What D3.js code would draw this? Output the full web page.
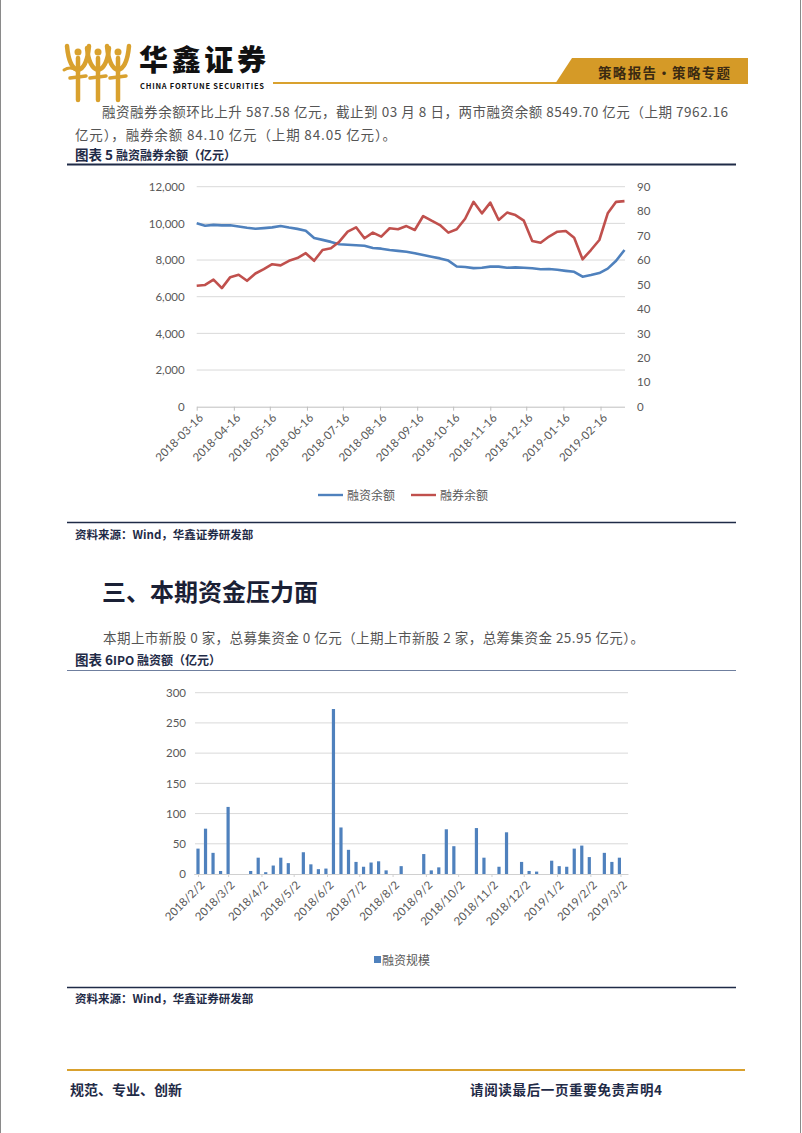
<!DOCTYPE html>
<html><head><meta charset="utf-8">
<script src="https://cdn.jsdelivr.net/npm/d3@7"></script>
<style>
html,body{margin:0;padding:0;background:#fff;}
svg{display:block;}
text{font-family:"Noto Sans CJK SC","Noto Sans",sans-serif;}
.tick text{font-family:Lato,"Open Sans",sans-serif;}
</style></head>
<body>
<svg id="page" width="802" height="1133"></svg>
<script>
// ---------- data: chart 5 (weekly) ----------
const marginDates = ["2018-03-16","2018-03-23","2018-03-30","2018-04-06","2018-04-13","2018-04-20","2018-04-27","2018-05-04","2018-05-11","2018-05-18","2018-05-25","2018-06-01","2018-06-08","2018-06-15","2018-06-22","2018-06-29","2018-07-06","2018-07-13","2018-07-20","2018-07-27","2018-08-03","2018-08-10","2018-08-17","2018-08-24","2018-08-31","2018-09-07","2018-09-14","2018-09-21","2018-09-28","2018-10-05","2018-10-12","2018-10-19","2018-10-26","2018-11-02","2018-11-09","2018-11-16","2018-11-23","2018-11-30","2018-12-07","2018-12-14","2018-12-21","2018-12-28","2019-01-04","2019-01-11","2019-01-18","2019-01-25","2019-02-01","2019-02-08","2019-02-15","2019-02-22","2019-03-01","2019-03-08"];
const financingBalance = [10000,9870,9920,9890,9900,9830,9760,9710,9740,9780,9860,9770,9700,9600,9200,9100,8990,8860,8830,8810,8780,8660,8620,8545,8500,8455,8370,8270,8180,8090,7970,7650,7620,7560,7580,7640,7640,7580,7600,7580,7550,7500,7510,7470,7410,7360,7090,7180,7290,7530,7962.16,8549.70];
const securitiesLending = [49.5,49.8,52,48.5,53,54,51.5,54.5,56.3,58.3,57.8,59.7,60.8,62.8,59.7,64.1,64.8,67.5,71.6,73.4,68.9,71.2,69.6,73,72.6,73.9,72.3,78,76.1,74.3,71.2,72.6,76.9,83.8,79.1,83.5,76.4,79.4,78.4,76.1,67.8,67.1,69.6,71.6,71.9,69.1,60.3,64.1,68.2,79.1,83.8,84.1];
const chart5LeftTicks = [0,2000,4000,6000,8000,10000,12000];
const chart5RightTicks = [0,10,20,30,40,50,60,70,80,90];
const chart5XTicks = ["2018-03-16","2018-04-16","2018-05-16","2018-06-16","2018-07-16","2018-08-16","2018-09-16","2018-10-16","2018-11-16","2018-12-16","2019-01-16","2019-02-16"];
const chart5Series = ["融资余额","融券余额"];

// ---------- data: chart 6 (weekly IPO) ----------
const ipoDates = ["2018-02-02","2018-02-09","2018-02-16","2018-02-23","2018-03-02","2018-03-09","2018-03-16","2018-03-23","2018-03-30","2018-04-06","2018-04-13","2018-04-20","2018-04-27","2018-05-04","2018-05-11","2018-05-18","2018-05-25","2018-06-01","2018-06-08","2018-06-15","2018-06-22","2018-06-29","2018-07-06","2018-07-13","2018-07-20","2018-07-27","2018-08-03","2018-08-10","2018-08-17","2018-08-24","2018-08-31","2018-09-07","2018-09-14","2018-09-21","2018-09-28","2018-10-05","2018-10-12","2018-10-19","2018-10-26","2018-11-02","2018-11-09","2018-11-16","2018-11-23","2018-11-30","2018-12-07","2018-12-14","2018-12-21","2018-12-28","2019-01-04","2019-01-11","2019-01-18","2019-01-25","2019-02-01","2019-02-08","2019-02-15","2019-02-22","2019-03-01"];
const ipoAmount = [42,75,35,5,111,0,0,5,27,3,14,27,18,0,36,16,8,9,273,77,40,20,12,19,21,6,0,13,0,0,33,6,11,74,46,0,0,76,27,0,12,69,0,20,5,4,0,22,13,12,42,47,28,0,35,20,27];
const chart6YTicks = [0,50,100,150,200,250,300];
const chart6XTicks = ["2018-02-02","2018-03-02","2018-04-02","2018-05-02","2018-06-02","2018-07-02","2018-08-02","2018-09-02","2018-10-02","2018-11-02","2018-12-02","2019-01-02","2019-02-02","2019-03-02"];
const chart6Series = ["融资规模"];

const parse = d3.timeParse("%Y-%m-%d");
const svg = d3.select("#page");
const GOLD = "#D9A12E", NAVY = "#1F2B47", BLUE = "#4F81BD", RED = "#C0504D", GRID = "#D9D9D9", AXTXT = "#595959";

// page frame
svg.append("line").attr("x1",0.5).attr("x2",0.5).attr("y1",0).attr("y2",1133).attr("stroke","#8a8a8a");
svg.append("line").attr("x1",800.5).attr("x2",800.5).attr("y1",0).attr("y2",1133).attr("stroke","#8a8a8a");

// ---------- header ----------
const logo = svg.append("g").attr("fill","none").attr("stroke",GOLD).attr("stroke-linecap","round");
[78,98,118].forEach((cx,i)=>{
  logo.append("path").attr("d",`M${cx-11},${46+i%2*2} Q${cx-9},${68} ${cx},${70} Q${cx+9},${68} ${cx+11},${46+i%2*2}`).attr("stroke-width",4.5);
  logo.append("path").attr("d",`M${cx},${58} L${cx},${100}`).attr("stroke-width",4.5);
  logo.append("path").attr("d",`M${cx-8},${78} L${cx+8},${76}`).attr("stroke-width",3.5);
  logo.append("circle").attr("cx",cx).attr("cy",52).attr("r",3.5).attr("fill",GOLD).attr("stroke","none");
});
logo.append("path").attr("d","M64,70 Q70,66 76,70").attr("stroke-width",3);
svg.append("text").attr("x",139).attr("y",71).attr("font-size",29).attr("font-weight",900).attr("fill","#111").attr("textLength",127).text("华鑫证券");
svg.append("text").attr("x",140).attr("y",89).attr("font-size",7.5).attr("font-weight",700).attr("fill","#111")
  .attr("font-family","'Liberation Sans',Arial,sans-serif").attr("textLength",124).text("CHINA FORTUNE SECURITIES");
svg.append("line").attr("x1",273).attr("x2",562).attr("y1",83).attr("y2",83).attr("stroke",GOLD).attr("stroke-width",2);
svg.append("path").attr("d","M555,84 L572,58 L748,58 L748,84 Z").attr("fill","#D59A27");
svg.append("text").attr("x",598).attr("y",78).attr("font-size",13.5).attr("font-weight",700).attr("fill","#3B2A12").attr("textLength",132).text("策略报告·策略专题");

// body text
const body = (x,y,t,len)=>{const e=svg.append("text").attr("x",x).attr("y",y).attr("font-size",13.5).attr("fill","#555").text(t); if(len) e.attr("textLength",len).attr("lengthAdjust","spacing"); return e;};
body(102,117,"融资融券余额环比上升 587.58 亿元，截止到 03 月 8 日，两市融资余额 8549.70 亿元（上期 7962.16",626);
body(75,140,"亿元），融券余额 84.10 亿元（上期 84.05 亿元）。",321);

const caption = (y,a,b)=>{
  const t = svg.append("text").attr("x",75).attr("y",y).attr("fill",NAVY).attr("font-weight",700);
  t.append("tspan").attr("font-size",13.5).text(a);
  t.append("tspan").attr("font-size",12).text(b);
};
caption(160,"图表 5 ","融资融券余额（亿元）");
svg.append("line").attr("x1",67).attr("x2",736).attr("y1",164.5).attr("y2",164.5).attr("stroke",NAVY).attr("stroke-width",2);

// ---------- chart 5 ----------
const x1 = d3.scaleTime().domain([parse("2018-03-16"),parse("2019-03-08")]).range([196.7,624.5]);
const yL = d3.scaleLinear().domain([0,12000]).range([406.7,186.7]);
const yR = d3.scaleLinear().domain([0,90]).range([406.7,186.7]);
const c5 = svg.append("g");
c5.append("g").selectAll("line").data(chart5LeftTicks.filter(d=>d>0)).join("line")
  .attr("x1",196.7).attr("x2",625).attr("y1",d=>yL(d)).attr("y2",d=>yL(d)).attr("stroke",GRID).attr("stroke-width",1);
const axL = c5.append("g").attr("transform","translate(196.7,0)")
  .call(d3.axisLeft(yL).tickValues(chart5LeftTicks).tickFormat(d3.format(",")).tickSize(0).tickPadding(12));
const axR = c5.append("g").attr("transform","translate(625,0)")
  .call(d3.axisRight(yR).tickValues(chart5RightTicks).tickSize(0).tickPadding(12));
const axB = c5.append("g").attr("transform","translate(0,406.7)")
  .call(d3.axisBottom(x1).tickValues(chart5XTicks.map(parse)).tickFormat(d3.timeFormat("%Y-%m-%d")).tickSize(4).tickSizeOuter(0));
[axL,axR].forEach(a=>a.select(".domain").remove());
axB.select(".domain").attr("stroke","#BFBFBF");
axB.selectAll(".tick line").attr("stroke","#BFBFBF");
axB.selectAll(".tick text").attr("text-anchor","end").attr("transform","translate(4,9) rotate(-45)").attr("dy","0.35em").attr("y",0).attr("x",0);
c5.selectAll(".tick text").attr("fill",AXTXT).attr("font-size",11.5);
const pts = marginDates.map(parse);
c5.append("path").datum(financingBalance).attr("fill","none").attr("stroke",BLUE).attr("stroke-width",2.6).attr("stroke-linejoin","round")
  .attr("d",d3.line().x((d,i)=>x1(pts[i])).y(d=>yL(d)));
c5.append("path").datum(securitiesLending).attr("fill","none").attr("stroke",RED).attr("stroke-width",2.6).attr("stroke-linejoin","round")
  .attr("d",d3.line().x((d,i)=>x1(pts[i])).y(d=>yR(d)));
// legend
const lg5 = c5.append("g");
[[318,BLUE,chart5Series[0]],[411,RED,chart5Series[1]]].forEach(([lx,c,t])=>{
  lg5.append("line").attr("x1",lx).attr("x2",lx+25).attr("y1",495).attr("y2",495).attr("stroke",c).attr("stroke-width",2.4);
  lg5.append("text").attr("x",lx+29).attr("y",499.5).attr("font-size",12).attr("fill",AXTXT).text(t);
});

svg.append("line").attr("x1",67).attr("x2",736).attr("y1",522.5).attr("y2",522.5).attr("stroke",NAVY).attr("stroke-width",1.6);
svg.append("text").attr("x",75).attr("y",538.5).attr("font-size",11.5).attr("font-weight",700).attr("fill",NAVY).text("资料来源：Wind，华鑫证券研发部");

// heading
svg.append("text").attr("x",102).attr("y",601).attr("font-size",24).attr("font-weight",700).attr("fill","#1A2035").text("三、本期资金压力面");
body(103,643,"本期上市新股 0 家，总募集资金 0 亿元（上期上市新股 2 家，总筹集资金 25.95 亿元）。",541);
caption(665,"图表 6","IPO 融资额（亿元）");
svg.append("line").attr("x1",67).attr("x2",736).attr("y1",670.5).attr("y2",670.5).attr("stroke","#6F7F9F").attr("stroke-width",1.2);

// ---------- chart 6 ----------
const x2 = d3.scaleTime().domain([parse("2018-01-29"),parse("2019-03-09")]).range([193.7,628]);
const y2 = d3.scaleLinear().domain([0,300]).range([874,692.7]);
const c6 = svg.append("g");
c6.append("g").selectAll("line").data(chart6YTicks.filter(d=>d>0)).join("line")
  .attr("x1",195).attr("x2",628).attr("y1",d=>y2(d)).attr("y2",d=>y2(d)).attr("stroke",GRID);
const ax6L = c6.append("g").attr("transform","translate(195,0)")
  .call(d3.axisLeft(y2).tickValues(chart6YTicks).tickSize(0).tickPadding(9));
ax6L.select(".domain").remove();
const ax6B = c6.append("g").attr("transform","translate(0,874)")
  .call(d3.axisBottom(x2).tickValues(chart6XTicks.map(parse)).tickFormat(d=>`${d.getFullYear()}/${d.getMonth()+1}/${d.getDate()}`).tickSize(3).tickSizeOuter(0));
ax6B.select(".domain").attr("stroke","#D0D0D0");
ax6B.selectAll(".tick line").attr("stroke","#D0D0D0");
ax6B.selectAll(".tick text").attr("text-anchor","end").attr("transform","translate(4,9) rotate(-45)").attr("dy","0.35em").attr("y",0).attr("x",0);
c6.selectAll(".tick text").attr("fill",AXTXT).attr("font-size",11.5);
const ipoPts = ipoDates.map(parse);
c6.append("g").selectAll("rect").data(ipoAmount).join("rect")
  .attr("x",(d,i)=>x2(ipoPts[i])-1.6).attr("width",3.2)
  .attr("y",d=>y2(d)).attr("height",d=>y2(0)-y2(d)).attr("fill",BLUE);
c6.append("rect").attr("x",374).attr("y",956).attr("width",7).attr("height",7).attr("fill",BLUE);
c6.append("text").attr("x",382).attr("y",964.5).attr("font-size",12).attr("fill",AXTXT).text(chart6Series[0]);

svg.append("line").attr("x1",67).attr("x2",736).attr("y1",987.5).attr("y2",987.5).attr("stroke",NAVY).attr("stroke-width",1.6);
svg.append("text").attr("x",75).attr("y",1002.5).attr("font-size",11.5).attr("font-weight",700).attr("fill",NAVY).text("资料来源：Wind，华鑫证券研发部");

// footer
svg.append("line").attr("x1",67).attr("x2",745).attr("y1",1070).attr("y2",1070).attr("stroke",GOLD).attr("stroke-width",2);
svg.append("text").attr("x",70).attr("y",1095).attr("font-size",14).attr("font-weight",700).attr("fill",NAVY).text("规范、专业、创新");
svg.append("text").attr("x",470).attr("y",1095).attr("font-size",13.5).attr("font-weight",700).attr("fill",NAVY).attr("textLength",192).text("请阅读最后一页重要免责声明4");
</script>
</body></html>
